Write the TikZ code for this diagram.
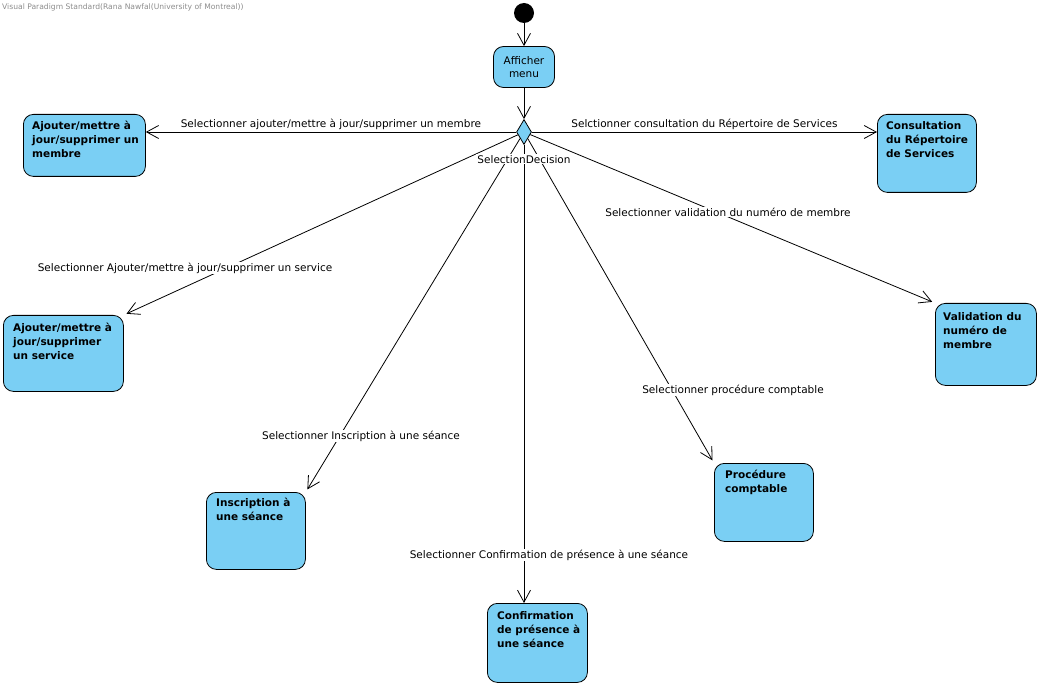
\documentclass[tikz,border=0pt]{standalone}
\usepackage{fontspec}
\setmainfont{DejaVu Sans}
\usetikzlibrary{positioning,shapes.geometric,arrows.meta}
\definecolor{stateblue}{RGB}{122,207,244}
\definecolor{markgray}{RGB}{140,140,140}
\tikzset{
  state box/.style 2 args={draw, fill=stateblue, rounded corners=10pt, line width=0.8pt,
    anchor=north west, inner sep=0pt, minimum width=#1, minimum height=#2},
  state text/.style={align=left, inner sep=0pt, font=\fontsize{10.5}{14}\selectfont\bfseries},
  guard/.style={fill=white, inner sep=1pt, font=\fontsize{10.5}{12}\selectfont},
  flow/.style={draw, line width=0.8pt, -{Straight Barb[length=12pt,width=13pt]}}
}
\begin{document}
\begin{tikzpicture}[x=1pt,y=-1pt]
  \useasboundingbox (0,0) rectangle (1037,687);
  \node[anchor=west, inner sep=0pt, text=markgray, font=\fontsize{7.6}{8}\selectfont] (vp) at (2,7)
    {Visual Paradigm Standard(Rana Nawfal(University of Montreal))};

  % start, menu, decision
  \node[circle, fill=black, inner sep=0pt, minimum size=20pt] (init) at (524,13) {};
  \node[draw, fill=stateblue, rounded corners=10pt, line width=0.8pt, align=center,
        minimum width=61pt, minimum height=41pt, inner sep=0pt,
        font=\fontsize{10.5}{13}\selectfont] (menu) at (524,67) {Afficher\\menu};
  \node[diamond, draw, fill=stateblue, line width=0.8pt, inner sep=0pt,
        minimum width=15pt, minimum height=25pt] (dec) at (524,132) {};

  % states
  \node[state box={122pt}{62pt}] (memb) at (23,114) {};
  \node[state text, below right=7pt and 9pt of memb.north west] (memb-t) {Ajouter/mettre à\\jour/supprimer un\\membre};
  \node[state box={99pt}{78pt}] (cons) at (877,114) {};
  \node[state text, below right=7pt and 9pt of cons.north west] (cons-t) {Consultation\\du Répertoire\\de Services};
  \node[state box={120pt}{76pt}] (serv) at (3,315) {};
  \node[state text, below right=8pt and 10pt of serv.north west] (serv-t) {Ajouter/mettre à\\jour/supprimer\\un service};
  \node[state box={101pt}{82pt}] (valid) at (935,303) {};
  \node[state text, below right=9pt and 8pt of valid.north west] (valid-t) {Validation du\\numéro de\\membre};
  \node[state box={99pt}{77pt}] (inscr) at (206,492) {};
  \node[state text, below right=6pt and 10pt of inscr.north west] (inscr-t) {Inscription à\\une séance};
  \node[state box={99pt}{78pt}] (compt) at (714,463) {};
  \node[state text, below right=7pt and 11pt of compt.north west] (compt-t) {Procédure\\comptable};
  \node[state box={100pt}{79pt}] (conf) at (487,603) {};
  \node[state text, below right=8pt and 10pt of conf.north west] (conf-t) {Confirmation\\de présence à\\une séance};

  % transitions
  \draw[flow] (init) -- (menu);
  \draw[flow] (menu) -- (dec);
  \draw[flow] (dec) -- node[guard, above=1pt] (g-memb) {Selectionner ajouter/mettre à jour/supprimer un membre} (dec -| memb.east);
  \draw[flow] (dec) -- node[guard, above=1pt] (g-cons) {Selctionner consultation du Répertoire de Services} (dec -| cons.west);
  \draw[flow, shorten >=3pt] (dec) -- (serv.north east);
  \draw[flow, shorten >=3pt] (dec) -- (inscr.north east);
  \draw[flow] (dec) -- (dec |- conf.north);
  \draw[flow, shorten >=3pt] (dec) -- (compt.north west);
  \draw[flow, shorten >=3pt] (dec) -- (valid.north west);

  % guards
  \node[guard] (g-serv) at (185,268) {Selectionner Ajouter/mettre à jour/supprimer un service};
  \node[guard] (g-inscr) at (361,436) {Selectionner Inscription à une séance};
  \node[guard] (g-conf) at (549,555) {Selectionner Confirmation de présence à une séance};
  \node[guard] (g-compt) at (733,390) {Selectionner procédure comptable};
  \node[guard] (g-valid) at (728,212) {Selectionner validation du numéro de membre};
  \node[guard, below=9pt of dec] (dec-name) {SelectionDecision};
\end{tikzpicture}
\end{document}
